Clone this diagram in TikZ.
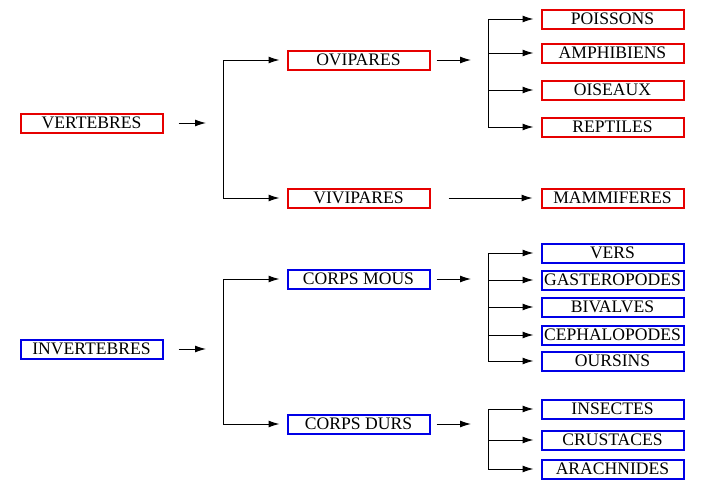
\documentclass[tikz,border=0pt]{standalone}
\usepackage{fontspec}
\setmainfont{Liberation Serif}
\usetikzlibrary{arrows.meta}
\definecolor{vertred}{RGB}{230,0,0}
\definecolor{invblue}{RGB}{0,0,230}
\begin{document}
\begin{tikzpicture}[x=1pt,y=-1pt,
        box/.style={draw,line width=2pt,minimum width=142pt,minimum height=19pt,inner sep=0pt,font=\fontsize{17.6}{19}\selectfont},
        redbox/.style={box,draw=vertred},
        bluebox/.style={box,draw=invblue},
        conn/.style={line width=1pt,-{Latex[length=11pt,width=7pt]}},
        branch/.style={conn,shorten >=7pt}]
        \useasboundingbox (0,0) rectangle (705,490);

        % vertebres
        \node[redbox] (vert) at (91.5,123) {VERTEBRES};
        \node[redbox] (ovi) at (358.5,60) {OVIPARES};
        \node[redbox] (vivi) at (358.5,198) {VIVIPARES};
        \node[redbox] (poi) at (612.5,19) {POISSONS};
        \node[redbox] (amp) at (612.5,53) {AMPHIBIENS};
        \node[redbox] (ois) at (612.5,90) {OISEAUX};
        \node[redbox] (rep) at (612.5,127) {REPTILES};
        \node[redbox] (mam) at (612.5,198) {MAMMIFERES};

        % invertebres
        \node[bluebox] (inv) at (91.5,349) {INVERTEBRES};
        \node[bluebox] (mous) at (358.5,279) {CORPS MOUS};
        \node[bluebox] (durs) at (358.5,424) {CORPS DURS};
        \node[bluebox] (vers) at (612.5,253) {VERS};
        \node[bluebox] (gas) at (612.5,280) {GASTEROPODES};
        \node[bluebox] (biv) at (612.5,307) {BIVALVES};
        \node[bluebox] (cep) at (612.5,335) {CEPHALOPODES};
        \node[bluebox] (our) at (612.5,361) {OURSINS};
        \node[bluebox] (ins) at (612.5,409) {INSECTES};
        \node[bluebox] (cru) at (612.5,440) {CRUSTACES};
        \node[bluebox] (ara) at (612.5,469) {ARACHNIDES};

        \coordinate (vertb) at (223,123);
        \coordinate (ovib) at (488,60);
        \coordinate (invb) at (223,349);
        \coordinate (mousb) at (488,279);
        \coordinate (dursb) at (488,424);

        \draw[conn] ([xshift=15pt]vert.east) -- ([xshift=-17pt]vertb);
        \draw[conn] ([xshift=6pt]ovi.east) -- ([xshift=-17pt]ovib);
        \draw[conn] ([xshift=18pt]vivi.east) -- ([xshift=-8pt]mam.west);
        \draw[conn] ([xshift=15pt]inv.east) -- ([xshift=-17pt]invb);
        \draw[conn] ([xshift=6pt]mous.east) -- ([xshift=-17pt]mousb);
        \draw[conn] ([xshift=6pt]durs.east) -- ([xshift=-17pt]dursb);

        \foreach \n in {ovi,vivi} \draw[branch] (vertb) |- (\n.west);
        \foreach \n in {poi,amp,ois,rep} \draw[branch] (ovib) |- (\n.west);
        \foreach \n in {mous,durs} \draw[branch] (invb) |- (\n.west);
        \foreach \n in {vers,gas,biv,cep,our} \draw[branch] (mousb) |- (\n.west);
        \foreach \n in {ins,cru,ara} \draw[branch] (dursb) |- (\n.west);
    \end{tikzpicture}
\end{document}
